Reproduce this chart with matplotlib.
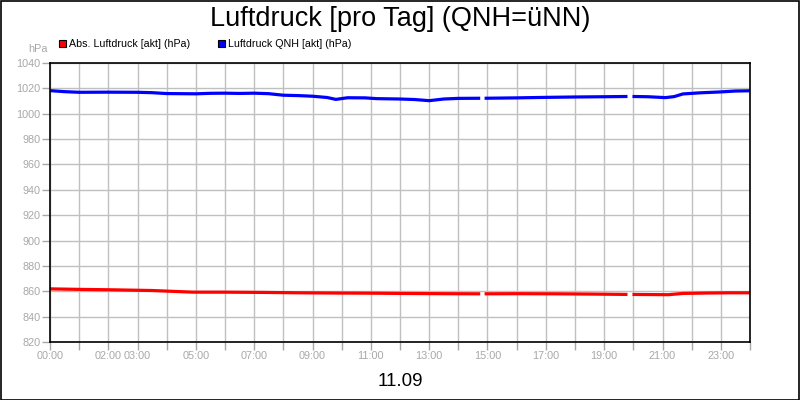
import numpy as np
import matplotlib
matplotlib.use("Agg")
import matplotlib.pyplot as plt
from matplotlib.patches import Rectangle

plt.rcParams['font.family'] = ['Liberation Sans', 'DejaVu Sans']

# hours of the day, NaN marks a gap in the record
qnh_hours = [0.0, 0.5, 1.0, 2.0, 3.0, 3.5, 4.0, 4.5, 5.0, 5.5, 6.0, 6.5, 7.0, 7.5,
             8.0, 8.5, 9.0, 9.5, 9.8, 10.2, 10.8, 11.2, 12.0, 12.5, 13.0, 13.5,
             14.0, 14.75, 14.82, 14.9, 16.0, 17.0, 18.0, 19.0, 19.8, 19.88, 19.97,
             20.5, 21.1, 21.4, 21.7, 22.3, 23.0, 23.5, 24.0]
qnh_values = [1018.2, 1017.4, 1016.9, 1017.0, 1016.9, 1016.6, 1015.9, 1015.8,
              1015.7, 1016.1, 1016.2, 1016.0, 1016.2, 1015.8, 1014.6, 1014.3,
              1013.8, 1012.8, 1011.3, 1012.6, 1012.5, 1011.9, 1011.6, 1011.2,
              1010.3, 1011.6, 1012.1, 1012.2, np.nan, 1012.2, 1012.5, 1012.9,
              1013.2, 1013.4, 1013.6, np.nan, 1013.6, 1013.4, 1012.7, 1013.5,
              1015.6, 1016.5, 1017.2, 1017.9, 1018.1]

abs_hours = [0.0, 1.0, 2.0, 3.5, 4.9, 6.0, 7.3, 8.5, 9.9, 11.0, 12.0, 13.5,
             14.75, 14.82, 14.9, 16.0, 17.4, 18.5, 19.8, 19.88, 19.97, 21.2,
             21.7, 22.5, 23.3, 24.0]
abs_values = [861.9, 861.5, 861.2, 860.6, 859.3, 859.3, 859.1, 858.8, 858.6,
              858.5, 858.3, 858.1, 858.0, np.nan, 858.0, 858.1, 858.0, 857.8,
              857.5, np.nan, 857.5, 857.3, 858.3, 858.6, 858.8, 858.8]

x_tick_hours = [0, 2, 3, 5, 7, 9, 11, 13, 15, 17, 19, 21, 23]
x_tick_labels = ['00:00', '02:00', '03:00', '05:00', '07:00', '09:00', '11:00',
                 '13:00', '15:00', '17:00', '19:00', '21:00', '23:00']
y_ticks = list(range(820, 1041, 20))

title = 'Luftdruck [pro Tag] (QNH=üNN)'
date_label = '11.09'
series_names = ['Abs. Luftdruck [akt] (hPa)', 'Luftdruck QNH [akt] (hPa)']
series_colors = ['#ff0000', '#0000ff']

grey = '#a8a8a8'

fig = plt.figure(figsize=(8, 4), dpi=100)
fig.patch.set_facecolor('white')
fig.add_artist(Rectangle((0.0008, 0.001), 0.9984, 0.997, transform=fig.transFigure,
                         fill=False, edgecolor='black', linewidth=1.2))

ax = fig.add_axes([0.0625, 0.145, 0.875, 0.6975])
ax.plot(abs_hours, abs_values, color=series_colors[0], linewidth=2.3,
        solid_joinstyle='round', solid_capstyle='butt')
ax.plot(qnh_hours, qnh_values, color=series_colors[1], linewidth=2.3,
        solid_joinstyle='round', solid_capstyle='butt')

ax.set_xlim(0, 24)
ax.set_ylim(820, 1040)
ax.set_xticks(range(0, 25), minor=True)
ax.set_xticks(x_tick_hours)
ax.set_xticklabels(x_tick_labels)
ax.set_yticks(y_ticks)
ax.grid(True, which='both', axis='x', color='#c0c0c0', linewidth=1)
ax.grid(True, which='major', axis='y', color='#c0c0c0', linewidth=1)
ax.set_axisbelow(True)
ax.tick_params(axis='both', which='both', colors=grey, labelcolor=grey,
               labelsize=7.8, length=6, width=1)
ax.tick_params(axis='x', which='both', pad=0.5)
ax.tick_params(axis='y', pad=1)
for s in ax.spines.values():
    s.set_color('black')
    s.set_linewidth(1.2)

fig.text(0.5, 0.953, title, ha='center', va='center', fontsize=19.5)
fig.text(0.5, 0.047, date_label, ha='center', va='center', fontsize=13.5)
fig.text(0.048, 0.878, 'hPa', ha='center', va='center', fontsize=7.8, color=grey)

# legend boxes and labels
for sx, name, col in zip([0.074, 0.2725], series_names, series_colors):
    fig.add_artist(Rectangle((sx, 0.8825), 0.009, 0.018, transform=fig.transFigure,
                             facecolor=col, edgecolor='black', linewidth=0.8))
    fig.text(sx + 0.0125, 0.891, name, ha='left', va='center', fontsize=7.7)

fig.savefig('out.png', dpi=100)
